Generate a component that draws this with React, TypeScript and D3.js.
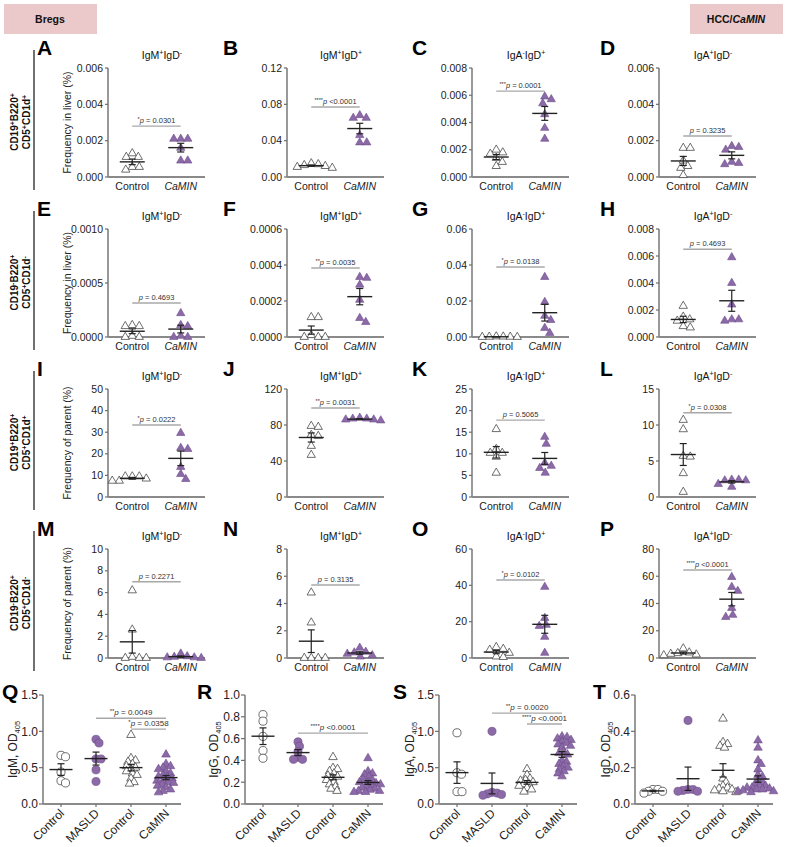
import React from 'react';
import * as d3 from 'd3';

const FONT = '"Liberation Sans", Arial, Helvetica, sans-serif';
const PURPLE = '#8c69a7';
const PURPLE_STROKE = '#6c4c89';
const PINK = '#ebc8c9';
const AXIS = '#6e6e6e';

// ---------- categories & labels ----------
const groups2 = ['Control', 'CaMIN'];
const groups4 = ['Control', 'MASLD', 'Control ', 'CaMIN'];
const groupLabels4 = ['Control', 'MASLD', 'Control', 'CaMIN'];
const panelLetters = ['A', 'B', 'C', 'D', 'E', 'F', 'G', 'H', 'I', 'J', 'K', 'L', 'M', 'N', 'O', 'P'];
const bigLetters = ['Q', 'R', 'S', 'T'];
const colTitles: [string, string][][] = [
  [['IgM', '+'], ['IgD', '-']],
  [['IgM', '+'], ['IgD', '+']],
  [['IgA', '-'], ['IgD', '+']],
  [['IgA', '+'], ['IgD', '-']],
];
const rowGates: [string, string][][][] = [
  [[['CD19', '+'], ['B220', '+']], [['CD5', '+'], ['CD1d', '+']]],
  [[['CD19', '-'], ['B220', '+']], [['CD5', '+'], ['CD1d', '-']]],
  [[['CD19', '+'], ['B220', '+']], [['CD5', '+'], ['CD1d', '+']]],
  [[['CD19', '-'], ['B220', '+']], [['CD5', '+'], ['CD1d', '-']]],
];
const rowYLabels = ['Frequency in liver (%)', 'Frequency in liver (%)', 'Frequency of parent (%)', 'Frequency of parent (%)'];
const bigYLabels = ['IgM', 'IgG', 'IgA', 'IgD'];

// ---------- data: rows 1-4 ----------
const aControl = [0.0013, 0.0011, 0.0011, 0.00055, 0.00055, 0.0004];
const aCaMIN = [0.0021, 0.0021, 0.0021, 0.0016, 0.0009, 0.0009];
const bControl = [0.015, 0.014, 0.013, 0.012, 0.011, 0.010];
const bCaMIN = [0.068, 0.065, 0.065, 0.046, 0.038, 0.038];
const cControl = [0.0020, 0.0018, 0.0017, 0.0014, 0.0011, 0.0008];
const cCaMIN = [0.0059, 0.0057, 0.0054, 0.0046, 0.0036, 0.0028];
const dControl = [0.0016, 0.0016, 0.0009, 0.0006, 0.0005, 0.0001];
const dCaMIN = [0.0017, 0.00165, 0.0015, 0.00083, 0.00077, 0.0007];
const eControl = [0.00011, 0.0001, 0.0001, 0.00001, 0, 0];
const eCaMIN = [0.00022, 0.00011, 0.0001, 0.00001, 0, 0];
const fControl = [0.00011, 0.00011, 0.00001, 0, 0, 0];
const fCaMIN = [0.000333, 0.000328, 0.00029, 0.000206, 0.000105, 0.000083];
const gControl = [0.0003, 0.0002, 0.0001, 0.0001, 0, 0];
const gCaMIN = [0.0333, 0.0194, 0.0117, 0.0094, 0.005, 0.0022];
const hControl = [0.0023, 0.0015, 0.0013, 0.0012, 0.0008, 0.0007];
const hCaMIN = [0.0059, 0.004, 0.0024, 0.0013, 0.0013, 0.0012];
const iControl = [9.5, 9.5, 9.5, 8.5, 7.5, 7.5];
const iCaMIN = [29.6, 22.7, 22.2, 13.9, 10.6, 8.3];
const jControl = [78.9, 77.8, 68.9, 67.8, 56.7, 46.7];
const jCaMIN = [88, 87, 87, 86, 86, 85];
const kControl = [15.7, 11.1, 10.2, 10.2, 9.3, 5.6];
const kCaMIN = [13.9, 12.3, 7.9, 7.2, 6.7, 5.6];
const lControl = [10.7, 9.4, 5.7, 5.6, 3.3, 0.7];
const lCaMIN = [2.4, 2.4, 2.3, 2.3, 1.8, 1.4];
const mControl = [6.2, 2.6, 0.1, 0, 0, 0];
const mCaMIN = [0.4, 0.15, 0.1, 0.05, 0.05, 0];
const nControl = [4.8, 2.6, 0, 0, 0, 0];
const nCaMIN = [0.75, 0.45, 0.4, 0.3, 0.2, 0.1];
const oControl = [6, 5, 4.5, 2.8, 0.8, 0.5];
const oCaMIN = [39.1, 22, 18.2, 17.6, 11.6, 2.8];
const pControl = [7, 4, 3.5, 3, 2.5, 2];
const pCaMIN = [59.4, 52.1, 49.2, 36.7, 31.6, 30.1];

const smallControls = [aControl, bControl, cControl, dControl, eControl, fControl, gControl, hControl, iControl, jControl, kControl, lControl, mControl, nControl, oControl, pControl];
const smallCaMINs = [aCaMIN, bCaMIN, cCaMIN, dCaMIN, eCaMIN, fCaMIN, gCaMIN, hCaMIN, iCaMIN, jCaMIN, kCaMIN, lCaMIN, mCaMIN, nCaMIN, oCaMIN, pCaMIN];

const smallTicks = [
  [0, 0.002, 0.004, 0.006], [0, 0.04, 0.08, 0.12], [0, 0.002, 0.004, 0.006, 0.008], [0, 0.002, 0.004, 0.006],
  [0, 0.0005, 0.001], [0, 0.0002, 0.0004, 0.0006], [0, 0.02, 0.04, 0.06], [0, 0.002, 0.004, 0.006, 0.008],
  [0, 10, 20, 30, 40, 50], [0, 40, 80, 120], [0, 5, 10, 15, 20, 25], [0, 5, 10, 15],
  [0, 2, 4, 6, 8, 10], [0, 2, 4, 6, 8], [0, 20, 40, 60], [0, 20, 40, 60, 80],
];
const smallDecimals = [3, 2, 3, 3, 4, 4, 2, 3, 0, 0, 0, 0, 0, 0, 0, 0];
const smallSigY = [0.0028, 0.077, 0.0063, 0.00226, 0.000315, 0.000383, 0.0389, 0.0065, 33.3, 98.9, 17.8, 11.7, 7.0, 5.36, 42.9, 64.6];
const smallSigStars = ['*', '****', '***', '', '', '**', '*', '', '*', '**', '', '*', '', '', '*', '****'];
const smallSigText = ['p = 0.0301', 'p <0.0001', 'p = 0.0001', 'p = 0.3235', 'p = 0.4693', 'p = 0.0035', 'p = 0.0138', 'p = 0.4693', 'p = 0.0222', 'p = 0.0031', 'p = 0.5065', 'p = 0.0308', 'p = 0.2271', 'p = 0.3135', 'p = 0.0102', 'p <0.0001'];

// ---------- data: row 5 ----------
const qControl = [0.67, 0.65, 0.44, 0.32, 0.29];
const qMASLD = [0.89, 0.84, 0.62, 0.62, 0.47, 0.31];
const qControl2 = [0.95, 0.63, 0.6, 0.58, 0.55, 0.52, 0.5, 0.48, 0.45, 0.42, 0.4, 0.35, 0.3, 0.28];
const qCaMIN = [0.68, 0.55, 0.52, 0.5, 0.48, 0.45, 0.42, 0.4, 0.38, 0.37, 0.35, 0.33, 0.32, 0.3, 0.29, 0.27, 0.25, 0.23, 0.2, 0.18, 0.16];
const rControl = [0.82, 0.76, 0.62, 0.49, 0.42];
const rMASLD = [0.57, 0.53, 0.48, 0.43, 0.41, 0.41];
const rControl2 = [0.43, 0.33, 0.32, 0.3, 0.28, 0.26, 0.25, 0.24, 0.22, 0.2, 0.18, 0.16, 0.14, 0.12];
const rCaMIN = [0.42, 0.3, 0.28, 0.27, 0.25, 0.23, 0.22, 0.2, 0.2, 0.19, 0.18, 0.17, 0.16, 0.15, 0.14, 0.13, 0.12, 0.12, 0.11, 0.11];
const sControl = [0.98, 0.43, 0.41, 0.17, 0.17];
const sMASLD = [1.0, 0.16, 0.15, 0.14, 0.13, 0.12];
const sControl2 = [0.48, 0.4, 0.35, 0.33, 0.32, 0.3, 0.28, 0.27, 0.25, 0.22, 0.2, 0.17];
const sCaMIN = [0.93, 0.92, 0.9, 0.88, 0.86, 0.84, 0.82, 0.8, 0.78, 0.72, 0.7, 0.68, 0.6, 0.58, 0.55, 0.52, 0.5, 0.48, 0.45, 0.42, 0.38];
const tControl = [0.08, 0.08, 0.07, 0.07, 0.06];
const tMASLD = [0.46, 0.08, 0.08, 0.075, 0.07, 0.07];
const tControl2 = [0.47, 0.34, 0.33, 0.32, 0.31, 0.14, 0.12, 0.1, 0.09, 0.085, 0.08, 0.075, 0.07, 0.065];
const tCaMIN = [0.35, 0.31, 0.24, 0.22, 0.19, 0.16, 0.15, 0.13, 0.12, 0.11, 0.1, 0.1, 0.09, 0.09, 0.085, 0.08, 0.08, 0.075, 0.07, 0.07, 0.065];

const bigGroups = [
  [qControl, qMASLD, qControl2, qCaMIN],
  [rControl, rMASLD, rControl2, rCaMIN],
  [sControl, sMASLD, sControl2, sCaMIN],
  [tControl, tMASLD, tControl2, tCaMIN],
];
const bigTicks = [[0, 0.5, 1.0, 1.5], [0, 0.2, 0.4, 0.6, 0.8, 1.0], [0, 0.5, 1.0, 1.5], [0, 0.2, 0.4, 0.6]];
const bigSigs = [
  [{ from: 1, to: 3, y: 1.18, stars: '**', text: 'p = 0.0049' }, { from: 2, to: 3, y: 1.03, stars: '*', text: 'p = 0.0358' }],
  [{ from: 1, to: 3, y: 0.65, stars: '****', text: 'p <0.0001' }],
  [{ from: 1, to: 3, y: 1.25, stars: '**', text: 'p = 0.0020' }, { from: 2, to: 3, y: 1.10, stars: '****', text: 'p <0.0001' }],
  [],
];

// ---------- layout ----------
const COL_X = [108, 287, 472, 659];
const LETTER_X = [37, 223, 412, 600];
const ROW_TOP = [68, 229, 389, 549];
const ROW_BOTTOM = [177, 337, 497, 658];
const PLOT_W = 97;
const BIG_X = [43, 245, 439, 635];
const BIG_LETTER_X = [2, 197, 393, 593];
const BIG_YLABEL_X = [17, 218, 414, 610];
const BIG_TOP = 695;
const BIG_BOTTOM = 804;
const BIG_W = 138;

function supSpans(segs: [string, string][], supSize: number, shift: number, keyp: string) {
  const out: any[] = [];
  segs.forEach(([base, sup], i) => {
    out.push(<tspan key={keyp + 'b' + i} dy={i === 0 ? 0 : shift}>{base}</tspan>);
    if (sup) out.push(<tspan key={keyp + 's' + i} dy={-shift} fontSize={supSize}>{sup}</tspan>);
  });
  return out;
}

function swarm(ys: number[], dmin: number): number[] {
  const order = ys.map((_, i) => i).sort((a, b) => ys[a] - ys[b]);
  const placed: { x: number; y: number }[] = [];
  const xs = new Array(ys.length).fill(0);
  for (const i of order) {
    const y = ys[i];
    let chosen = 0;
    for (let k = 0; k < 400; k++) {
      const mag = Math.ceil(k / 2) * 0.5;
      const cand = k % 2 === 1 ? mag : -mag;
      if (placed.every((p) => Math.hypot(p.x - cand, p.y - y) >= dmin)) {
        chosen = cand;
        break;
      }
    }
    placed.push({ x: chosen, y });
    xs[i] = chosen;
  }
  return xs;
}

const triPath = (size: number) => d3.symbol(d3.symbolTriangle, size)()!;
const circPath = (size: number) => d3.symbol(d3.symbolCircle, size)()!;

function Group({ values, cx, y, shape, filled, size, dmin, halfMean }: any) {
  const ys = values.map((v: number) => y(v));
  const xs = swarm(ys, dmin);
  const mean = d3.mean(values) as number;
  const sem = (d3.deviation(values) as number) / Math.sqrt(values.length);
  const path = shape === 'tri' ? triPath(size) : circPath(size);
  const ym = y(mean);
  const y1 = y(mean + sem);
  const y0 = y(mean - sem);
  return (
    <g>
      {values.map((v: number, i: number) => (
        <path
          key={i}
          d={path}
          transform={`translate(${cx + xs[i]},${ys[i]})`}
          fill={filled ? PURPLE : '#fff'}
          stroke={filled ? PURPLE_STROKE : '#4a4a4a'}
          strokeWidth={filled ? 0.6 : 0.8}
        />
      ))}
      <line x1={cx - halfMean} x2={cx + halfMean} y1={ym} y2={ym} stroke="#222" strokeWidth={1.4} />
      <line x1={cx} x2={cx} y1={y0} y2={y1} stroke="#222" strokeWidth={1.2} />
      <line x1={cx - 3.5} x2={cx + 3.5} y1={y1} y2={y1} stroke="#222" strokeWidth={1.2} />
      <line x1={cx - 3.5} x2={cx + 3.5} y1={y0} y2={y0} stroke="#222" strokeWidth={1.2} />
    </g>
  );
}

function SigLabel({ x1, x2, y, stars, text, fs }: any) {
  return (
    <g>
      <line x1={x1} x2={x2} y1={y} y2={y} stroke="#a8a8a8" strokeWidth={1.4} />
      <text x={(x1 + x2) / 2} y={y - 3} textAnchor="middle" fontSize={fs} fill="#333" fontFamily={FONT}>
        {stars ? <tspan fontSize={fs - 2} dy={-2}>{stars}</tspan> : null}
        <tspan fontStyle="italic" dy={stars ? 2 : 0}>{text.slice(0, 1)}</tspan>
        <tspan>{text.slice(1)}</tspan>
      </text>
    </g>
  );
}

function SmallPanel({ idx }: { idx: number }) {
  const row = Math.floor(idx / 4);
  const col = idx % 4;
  const x0 = COL_X[col];
  const top = ROW_TOP[row];
  const bottom = ROW_BOTTOM[row];
  const ticks = smallTicks[idx];
  const y = d3.scaleLinear().domain([0, ticks[ticks.length - 1]]).range([bottom, top]);
  const x = d3.scalePoint<string>().domain(groups2).range([x0, x0 + PLOT_W]).padding(0.5);
  const fmt = d3.format(`.${smallDecimals[idx]}f`);
  const cx0 = x('Control')!;
  const cx1 = x('CaMIN')!;
  return (
    <g fontFamily={FONT}>
      <text x={LETTER_X[col]} y={top - 13} fontSize={21} fontWeight="bold" fill="#000">{panelLetters[idx]}</text>
      <text x={x0 + 54} y={top - 9.5} fontSize={10.5} textAnchor="middle" fill="#111">
        {supSpans(colTitles[col], 7, 3.5, 't')}
      </text>
      {col === 0 ? (
        <text transform={`translate(71,${(top + bottom) / 2}) rotate(-90)`} textAnchor="middle" fontSize={10.5} fill="#222">
          {rowYLabels[row]}
        </text>
      ) : null}
      {ticks.map((t) => (
        <g key={t}>
          <line x1={x0 - 3} x2={x0} y1={y(t)} y2={y(t)} stroke={AXIS} strokeWidth={1.2} />
          <text x={x0 - 5} y={y(t)} dy="0.35em" textAnchor="end" fontSize={10.5} fill="#222">{fmt(t)}</text>
        </g>
      ))}
      <line x1={x0} x2={x0} y1={top} y2={bottom} stroke={AXIS} strokeWidth={1.4} />
      <line x1={x0} x2={x0 + PLOT_W} y1={bottom} y2={bottom} stroke="#8a8a8a" strokeWidth={1.8} />
      <text x={cx0} y={bottom + 13} textAnchor="middle" fontSize={10.5} fill="#222">Control</text>
      <text x={cx1} y={bottom + 13} textAnchor="middle" fontSize={10.5} fontStyle="italic" fill="#222">CaMIN</text>
      <SigLabel x1={cx0} x2={cx1} y={y(smallSigY[idx])} stars={smallSigStars[idx]} text={smallSigText[idx]} fs={7.5} />
      <Group values={smallControls[idx]} cx={cx0} y={y} shape="tri" filled={false} size={30} dmin={7} halfMean={12.5} />
      <Group values={smallCaMINs[idx]} cx={cx1} y={y} shape="tri" filled={true} size={30} dmin={7} halfMean={12.5} />
    </g>
  );
}

function BigPanel({ idx }: { idx: number }) {
  const x0 = BIG_X[idx];
  const ticks = bigTicks[idx];
  const y = d3.scaleLinear().domain([0, ticks[ticks.length - 1]]).range([BIG_BOTTOM, BIG_TOP]);
  const x = d3.scalePoint<string>().domain(groups4).range([x0 + 18, x0 + 123]);
  const fmt = d3.format('.1f');
  const shapes = ['circ', 'circ', 'tri', 'tri'];
  const fills = [false, true, false, true];
  return (
    <g fontFamily={FONT}>
      <text x={BIG_LETTER_X[idx]} y={699} fontSize={21} fontWeight="bold" fill="#000">{bigLetters[idx]}</text>
      <text transform={`translate(${BIG_YLABEL_X[idx]},${(BIG_TOP + BIG_BOTTOM) / 2}) rotate(-90)`} textAnchor="middle" fontSize={12} fill="#222">
        <tspan>{bigYLabels[idx]}, OD</tspan>
        <tspan fontSize={7.5} dy={3}>405</tspan>
      </text>
      {ticks.map((t) => (
        <g key={t}>
          <line x1={x0 - 4} x2={x0} y1={y(t)} y2={y(t)} stroke={AXIS} strokeWidth={1.2} />
          <text x={x0 - 5} y={y(t)} dy="0.36em" textAnchor="end" fontSize={12} fill="#222">{fmt(t)}</text>
        </g>
      ))}
      <line x1={x0} x2={x0} y1={BIG_TOP} y2={BIG_BOTTOM} stroke={AXIS} strokeWidth={1.4} />
      <line x1={x0} x2={x0 + BIG_W} y1={BIG_BOTTOM} y2={BIG_BOTTOM} stroke="#8a8a8a" strokeWidth={1.8} />
      {groups4.map((g, i) => {
        const gx = x(g)!;
        return (
          <g key={g}>
            <line x1={gx} x2={gx} y1={BIG_BOTTOM} y2={BIG_BOTTOM + 3} stroke={AXIS} strokeWidth={1.2} />
            <text transform={`translate(${gx + 4},${BIG_BOTTOM + 10}) rotate(-45)`} textAnchor="end" fontSize={12} fill="#222">
              {groupLabels4[i]}
            </text>
          </g>
        );
      })}
      {bigSigs[idx].map((s, i) => (
        <SigLabel key={i} x1={x(groups4[s.from])!} x2={x(groups4[s.to])!} y={y(s.y)} stars={s.stars} text={s.text} fs={8} />
      ))}
      {bigGroups[idx].map((vals, i) => (
        <Group key={i} values={vals} cx={x(groups4[i])!} y={y} shape={shapes[i]} filled={fills[i]} size={shapes[i] === 'tri' ? 32 : 52} dmin={4.6} halfMean={11.5} />
      ))}
    </g>
  );
}

function RowLabel({ row }: { row: number }) {
  const lt = ROW_TOP[row] - 18;
  const lb = ROW_BOTTOM[row] + 13;
  const cy = (lt + lb) / 2 + 2;
  const [l1, l2] = rowGates[row];
  return (
    <g fontFamily={FONT}>
      <line x1={34} x2={34} y1={lt} y2={lb} stroke="#111" strokeWidth={1.2} />
      <text transform={`translate(18,${cy}) rotate(-90)`} textAnchor="middle" fontSize={10} fontWeight="bold" fill="#111">
        {supSpans(l1, 7, 3.5, 'a')}
      </text>
      <text transform={`translate(30,${cy}) rotate(-90)`} textAnchor="middle" fontSize={10} fontWeight="bold" fill="#111">
        {supSpans(l2, 7, 3.5, 'b')}
      </text>
    </g>
  );
}

export default function App() {
  return (
    <svg width={787} height={847} style={{ position: 'absolute', left: 0, top: 0, background: '#fff' }}>
      <rect x={0} y={0} width={787} height={847} fill="#fff" />
      <rect x={4} y={4} width={93} height={30} fill={PINK} />
      <text x={50} y={23} textAnchor="middle" fontSize={10.5} fontWeight="bold" fontFamily={FONT} fill="#111">Bregs</text>
      <rect x={690} y={4} width={93} height={30} fill={PINK} />
      <text x={736} y={23} textAnchor="middle" fontSize={10.5} fontWeight="bold" fontFamily={FONT} fill="#111">
        HCC/<tspan fontStyle="italic">CaMIN</tspan>
      </text>
      {[0, 1, 2, 3].map((r) => <RowLabel key={r} row={r} />)}
      {panelLetters.map((_, i) => <SmallPanel key={i} idx={i} />)}
      {bigLetters.map((_, i) => <BigPanel key={i} idx={i} />)}
    </svg>
  );
}
